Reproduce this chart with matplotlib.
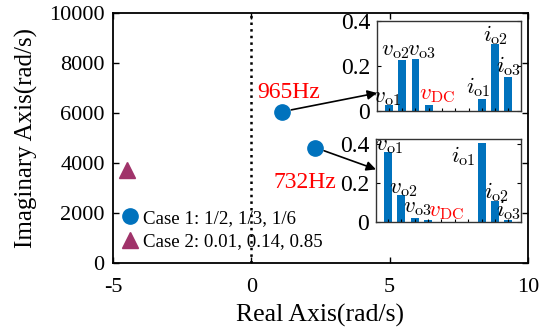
import matplotlib
matplotlib.use("Agg")
import matplotlib.pyplot as plt

plt.rcParams['font.family'] = ['Liberation Serif', 'DejaVu Serif']
plt.rcParams['mathtext.fontset'] = 'cm'
plt.rcParams['axes.unicode_minus'] = False

# Main pole plot data
case1_re = [1.1, 2.3]
case1_im = [6050, 4620]
case2_re = [-4.5]
case2_im = [3720]
case1_label = "Case 1: 1/2, 1/3, 1/6"
case2_label = "Case 2: 0.01, 0.14, 0.85"
freq_labels = ["965Hz", "732Hz"]

# Inset bar data (positions 1..10)
bar_pos = [1, 2, 3, 4, 5, 6, 7, 8, 9, 10]
inset1_vals = [0.027, 0.227, 0.230, 0.028, 0.0, 0.0, 0.0, 0.053, 0.296, 0.152]
inset2_vals = [0.360, 0.138, 0.019, 0.010, 0.0, 0.0, 0.0, 0.407, 0.108, 0.009]
names = [r'$v_{\rm o1}$', r'$v_{\rm o2}$', r'$v_{\rm o3}$', r'$v_{\rm DC}$',
         r'$i_{\rm o1}$', r'$i_{\rm o2}$', r'$i_{\rm o3}$']
inset1_lab_xy = [(0.85, 0.062), (1.45, 0.27), (3.4, 0.27), (4.6, 0.075),
                 (7.7, 0.107), (9.05, 0.338), (10.0, 0.20)]
inset2_lab_xy = [(1.08, 0.395), (2.13, 0.174), (3.18, 0.072), (5.3, 0.056),
                 (6.64, 0.338), (9.12, 0.154), (10.0, 0.062)]

BLUE = '#0072BD'
PURPLE = '#A0336A'
W, H = 559, 332

fig = plt.figure(figsize=(W / 100, H / 100), dpi=100)

def rect(l, t, r, b):
    return [l / W, 1 - b / H, (r - l) / W, (b - t) / H]

ax = fig.add_axes(rect(113, 13, 528, 263))
ax.set_xlim(-5, 10)
ax.set_ylim(0, 10000)
ax.set_xticks([-5, 0, 5, 10])
ax.set_yticks([0, 2000, 4000, 6000, 8000, 10000])
ax.tick_params(direction='in', top=True, right=True, labelsize=16, length=4, width=1, pad=6)
ax.tick_params(axis='x', pad=11)
for s in ax.spines.values():
    s.set_linewidth(1.3)
ax.axvline(0, color='black', linestyle=':', linewidth=1.8)
ax.set_xlabel('Real Axis(rad/s)', fontsize=18.5, labelpad=5)
ax.set_ylabel('Imaginary Axis(rad/s)', fontsize=18, labelpad=8)

l1, = ax.plot(case1_re, case1_im, 'o', color=BLUE, markersize=11, linestyle='none', label=case1_label)
l2, = ax.plot(case2_re, case2_im, '^', color=PURPLE, markersize=11, linestyle='none', label=case2_label)
ax.legend(loc='lower left', bbox_to_anchor=(0.0, 0.035), frameon=False, fontsize=13.6,
          handletextpad=0.0, labelspacing=0.33, borderaxespad=0.0, handlelength=1.4,
          borderpad=0.2)

ax.text(1.34, 6840, freq_labels[0], color='red', fontsize=17, ha='center', va='center')
ax.text(1.95, 3200, freq_labels[1], color='red', fontsize=17, ha='center', va='center')

def make_inset(r, vals, ylim, labxy):
    ia = fig.add_axes(rect(*r))
    ia.bar(bar_pos, vals, width=0.6, color=BLUE)
    ia.set_xlim(0.1, 10.95)
    ia.set_ylim(*ylim)
    ia.set_yticks([0, 0.2, 0.4])
    ia.set_yticklabels(['0', '0.2', '0.4'])
    ia.set_xticks(bar_pos)
    ia.set_xticklabels([])
    ia.tick_params(direction='in', right=True, labelsize=17, length=3, width=0.8, pad=5)
    ia.tick_params(axis='x', length=2)
    for s in ia.spines.values():
        s.set_linewidth(1.0)
        s.set_color('#333333')
    for i, (nm, (x, y)) in enumerate(zip(names, labxy)):
        ia.text(x, y, nm, fontsize=16.5, ha='center', va='center',
                color='red' if i == 3 else 'black')
    return ia

ia1 = make_inset((377, 21, 521, 111), inset1_vals, (0, 0.4), inset1_lab_xy)
ia2 = make_inset((376, 139, 521, 222), inset2_vals, (0, 0.426), inset2_lab_xy)

ax.annotate('', xy=(0.1, 0.08), xycoords=ia1.transData,
            xytext=(case1_re[0], case1_im[0]), textcoords=ax.transData,
            arrowprops=dict(arrowstyle='-|>', color='black', lw=1.2,
                            shrinkA=7, shrinkB=0, mutation_scale=14))
ax.annotate('', xy=(0.1, 0.27), xycoords=ia2.transData,
            xytext=(case1_re[1], case1_im[1]), textcoords=ax.transData,
            arrowprops=dict(arrowstyle='-|>', color='black', lw=1.2,
                            shrinkA=7, shrinkB=0, mutation_scale=14))

fig.savefig('out.png', dpi=100)
